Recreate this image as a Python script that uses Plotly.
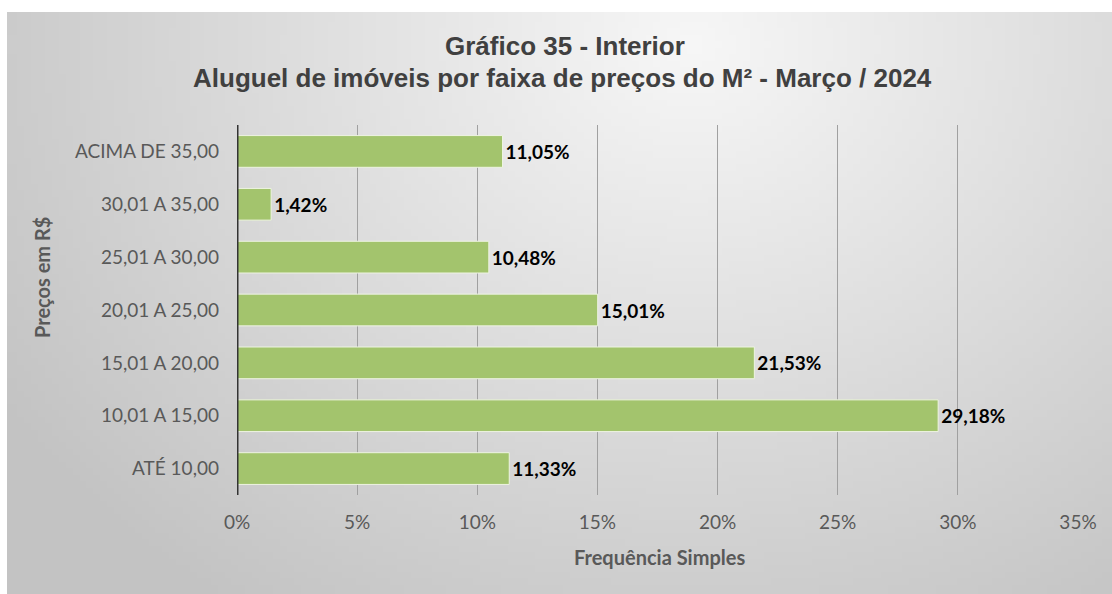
import base64, struct, zlib
import plotly.graph_objects as go

categorias = ["ATÉ 10,00", "10,01 A 15,00", "15,01 A 20,00", "20,01 A 25,00",
              "25,01 A 30,00", "30,01 A 35,00", "ACIMA DE 35,00"]
valores = [11.33, 29.18, 21.53, 15.01, 10.48, 1.42, 11.05]
rotulos = ["11,33%", "29,18%", "21,53%", "15,01%", "10,48%", "1,42%", "11,05%"]
ticks_x = [0, 5, 10, 15, 20, 25, 30, 35]
ticks_x_txt = ["0%", "5%", "10%", "15%", "20%", "25%", "30%", "35%"]


def gradient_png(w=160, h=90):
    rows = []
    for j in range(h):
        row = bytearray([0])
        for i in range(w):
            x = i / (w - 1)
            y = j / (h - 1)
            d = (((x - 0.62) / 0.75) ** 2 + ((y - 0.05) / 1.2) ** 2) ** 0.5
            v = int(max(195, min(247, 247 - 52 * d)))
            row += bytes([v, v, v])
        rows.append(bytes(row))
    raw = b"".join(rows)

    def chunk(t, d):
        c = struct.pack(">I", len(d)) + t + d
        return c + struct.pack(">I", zlib.crc32(t + d) & 0xffffffff)

    png = b"\x89PNG\r\n\x1a\n"
    png += chunk(b"IHDR", struct.pack(">IIBBBBB", w, h, 8, 2, 0, 0, 0))
    png += chunk(b"IDAT", zlib.compress(raw, 9))
    png += chunk(b"IEND", b"")
    return "data:image/png;base64," + base64.b64encode(png).decode()


W, H = 1112, 594
L, R, T, B = 237, 1078, 125, 495
PW, PH = R - L, B - T

fig = go.Figure()
fig.add_trace(go.Bar(
    y=categorias, x=valores, orientation="h",
    marker=dict(color="#a3c46d", line=dict(color="#eef4e2", width=1)),
    width=0.6,
    text=rotulos, textposition="outside", cliponaxis=False,
    textfont=dict(family="Lato, sans-serif", size=19, color="#000000", weight="bold"),
    hoverinfo="skip",
))

fig.update_layout(
    width=W, height=H,
    paper_bgcolor="white", plot_bgcolor="rgba(0,0,0,0)",
    margin=dict(l=L, r=W - R, t=T, b=H - B),
    showlegend=False,
    images=[dict(source=gradient_png(), xref="paper", yref="paper",
                 x=-(L - 7) / PW, y=1 + (T - 12) / PH, sizex=(W - 7) / PW,
                 sizey=(H - 12) / PH, sizing="stretch", layer="below",
                 xanchor="left", yanchor="top")],
    xaxis=dict(range=[0, 35], tickvals=ticks_x, ticktext=ticks_x_txt,
               showgrid=True, gridcolor="#a0a0a0", gridwidth=1,
               zeroline=False, showline=False, ticks="",
               tickfont=dict(family="Lato, sans-serif", size=19, color="#595959"),
               ticklabelstandoff=14, fixedrange=True),
    yaxis=dict(categoryorder="array", categoryarray=categorias,
               showgrid=False, zeroline=False, showline=False, ticks="",
               tickfont=dict(family="Lato, sans-serif", size=19, color="#595959"),
               ticklabelstandoff=17, fixedrange=True),
    shapes=[dict(type="line", xref="x", yref="paper", x0=0, x1=0, y0=0, y1=1,
                 line=dict(color="#333333", width=3))],
    annotations=[
        dict(text="Gráfico 35 - Interior", xref="paper", yref="paper",
             x=(565 - L) / PW, y=1 + (T - 46) / PH, showarrow=False,
             font=dict(family="Liberation Sans, Arial", size=26, color="#404040", weight="bold"),
             xanchor="center", yanchor="middle"),
        dict(text="Aluguel de imóveis por faixa de preços do M² - Março / 2024", xref="paper", yref="paper",
             x=(562 - L) / PW, y=1 + (T - 78) / PH, showarrow=False,
             font=dict(family="Liberation Sans, Arial", size=26, color="#404040", weight="bold"),
             xanchor="center", yanchor="middle"),
        dict(text="Frequência Simples", xref="paper", yref="paper",
             x=(659 - L) / PW, y=-(557 - B) / PH, showarrow=False,
             font=dict(family="Lato, sans-serif", size=20, color="#595959", weight="bold"),
             xanchor="center", yanchor="middle"),
        dict(text="Preços em R$", xref="paper", yref="paper",
             x=-(L - 42) / PW, y=(B - 278) / PH, showarrow=False, textangle=-90,
             font=dict(family="Lato, sans-serif", size=20, color="#595959", weight="bold"),
             xanchor="center", yanchor="middle"),
    ],
)

fig.write_html("out.html", config={"displayModeBar": False},
               post_script="document.body.style.margin='0';document.body.style.overflow='hidden';")
